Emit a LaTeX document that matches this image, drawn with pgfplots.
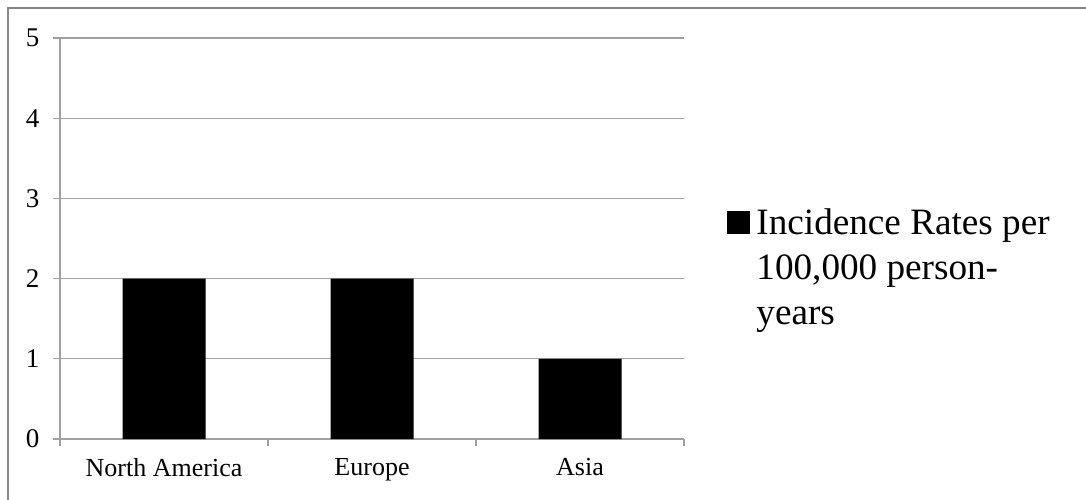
\documentclass[border=0pt]{standalone}
\usepackage{pgfplots}
\pgfplotsset{compat=1.18}
\usepackage{fontspec}
\setmainfont{Liberation Serif}
\definecolor{gridgray}{RGB}{160,160,160}
\definecolor{framegray}{RGB}{134,134,134}
\begin{document}
\begin{tikzpicture}
\useasboundingbox (0,0) rectangle (543pt,249.5pt);
\draw[framegray, line width=0.8pt] (4pt,-2pt) -- (4pt,245.5pt) -- (546pt,245.5pt);
\begin{axis}[
  at={(30pt,30pt)}, anchor=south west,
  scale only axis, width=312pt, height=200.5pt,
  xmin=-0.5, xmax=2.5, ymin=0, ymax=5,
  axis x line*=bottom, axis y line*=left,
  axis line style={draw=gridgray, line width=0.6pt},
  xtick={-0.5,0.5,1.5,2.5}, xticklabels={},
  extra x ticks={0,1,2}, extra x tick labels={North America, Europe, Asia},
  extra x tick style={major tick length=0pt, grid=none, xticklabel style={yshift=-6pt, font=\fontsize{13}{15}\selectfont}},
  ytick={0,1,2,3,4,5}, ymajorgrids, grid style={gridgray, line width=0.6pt},
  tick style={draw=gridgray, line width=0.6pt},
  tick align=outside, major tick length=3.5pt,
  /pgf/number format/assume math mode=true,
  yticklabel style={xshift=-3.3pt, font=\fontsize{13.5}{15}\selectfont},
  ybar, bar width=41.5pt,
  legend style={draw=none, fill=none, inner sep=0pt, at={(1,0.426)}, anchor=west, xshift=21.5pt,
    font=\fontsize{18.6}{22.5}\selectfont, cells={anchor=west, align=left},
    nodes={inner sep=1.5pt}},
  legend image code/.code={\fill[black] (0pt,17pt) rectangle (11.5pt,28.5pt);},
]
\addplot[fill=black, draw=none] coordinates {(0,2) (1,2) (2,1)};
\addlegendentry{\hspace{1.5pt}Incidence Rates per\\\hspace{1.5pt}100,000 person-\\\hspace{1.5pt}years}
\end{axis}
\end{tikzpicture}
\end{document}
